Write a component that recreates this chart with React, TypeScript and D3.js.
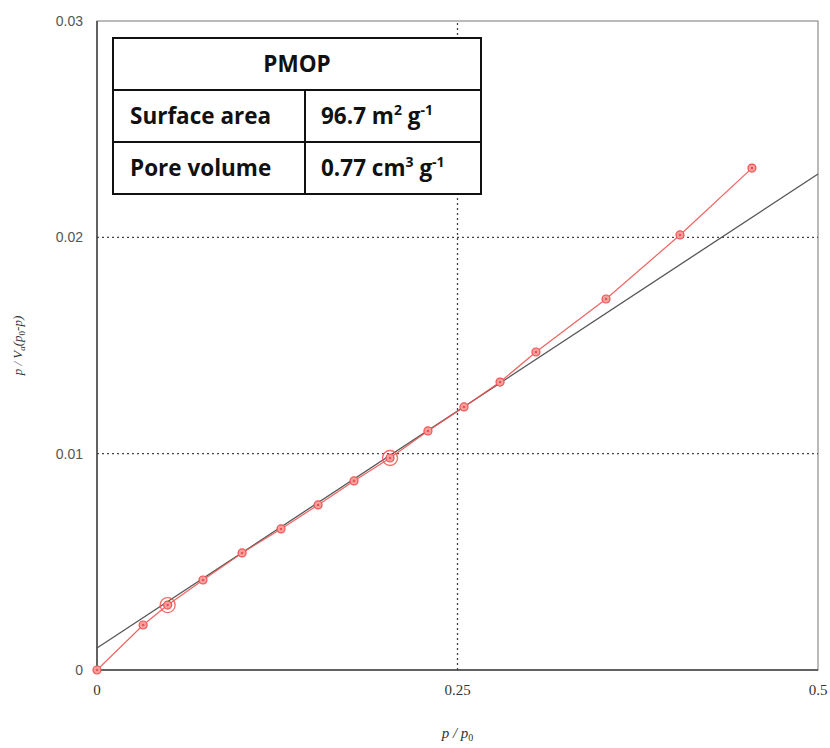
import React from "react";
import * as d3 from "d3";

// relative pressure p/p0
const relPressure = [0, 0.032, 0.049, 0.0735, 0.1006, 0.1276, 0.1533, 0.1782, 0.2032, 0.2295, 0.2545, 0.2795, 0.3044, 0.353, 0.4043, 0.4542];
// BET transform p / Va(p0-p)
const betValues = [0, 0.00208, 0.003, 0.00416, 0.00541, 0.00652, 0.00763, 0.00874, 0.0098, 0.01105, 0.01216, 0.01331, 0.0147, 0.01715, 0.02011, 0.0232];
// points that bound the fitted range
const rangeIdx = [2, 8];
// fitted line
const fitX = [0, 0.5];
const fitY = [0.00102, 0.02293];

const xTicks = [0, 0.25, 0.5];
const yTicks = [0, 0.01, 0.02, 0.03];
const xTickLabels = ["0", "0.25", "0.5"];
const yTickLabels = ["0", "0.01", "0.02", "0.03"];

const tableTitle = "PMOP";
const tableRows = [
  { label: "Surface area", value: "96.7 m", sup1: "2", unit: " g", sup2: "-1" },
  { label: "Pore volume", value: "0.77 cm", sup1: "3", unit: " g", sup2: "-1" },
];

const W = 830;
const H = 748;
const margin = { left: 97, right: 12, top: 21, bottom: 78 };

const App = () => {
  const x = d3.scaleLinear().domain([0, 0.5]).range([margin.left, W - margin.right]);
  const y = d3.scaleLinear().domain([0, 0.03]).range([H - margin.bottom, margin.top]);

  const pts = relPressure.map((p, i) => [p, betValues[i]] as [number, number]);
  const line = d3.line<[number, number]>().x((d) => x(d[0])).y((d) => y(d[1]));
  const fitPts = fitX.map((v, i) => [v, fitY[i]] as [number, number]);

  const red = "#f0524f";
  const tx = 113, ty = 38, tw = 368, rh = 52, colX = 305;
  const tFont = "'Open Sans', Lato, sans-serif";

  return (
    <svg width={W} height={H} style={{ position: "absolute", left: 0, top: 0, background: "#fff" }}>
      {/* frame */}
      <rect x={x(0)} y={y(0.03)} width={x(0.5) - x(0)} height={y(0) - y(0.03)} fill="none" stroke="#777" strokeWidth={1} />
      {/* grid */}
      {xTicks.filter((t) => t > 0 && t < 0.5).map((t) => (
        <line key={"gx" + t} x1={x(t)} x2={x(t)} y1={y(0)} y2={y(0.03)} stroke="#444" strokeWidth={1.3} strokeDasharray="2,3" />
      ))}
      {yTicks.filter((t) => t > 0 && t < 0.03).map((t) => (
        <line key={"gy" + t} x1={x(0)} x2={x(0.5)} y1={y(t)} y2={y(t)} stroke="#444" strokeWidth={1.3} strokeDasharray="2,3" />
      ))}
      {/* axes */}
      <line x1={x(0)} x2={x(0)} y1={y(0)} y2={y(0.03)} stroke="#444" strokeWidth={1.5} />
      <line x1={x(0)} x2={x(0.5)} y1={y(0)} y2={y(0)} stroke="#444" strokeWidth={1.5} />

      {yTicks.map((t, i) => (
        <text key={"yt" + t} x={x(0) - 14} y={y(t)} dy="0.35em" textAnchor="end" fontFamily="'Liberation Sans', Arial, sans-serif" fontSize={14} fill="#555">
          {yTickLabels[i]}
        </text>
      ))}
      {xTicks.map((t, i) => (
        <text key={"xt" + t} x={x(t)} y={y(0) + 25} textAnchor="middle" fontFamily="'Liberation Serif', 'Times New Roman', serif" fontSize={15} fill="#333">
          {xTickLabels[i]}
        </text>
      ))}

      {/* axis titles */}
      <text x={x(0.25)} y={H - 10} textAnchor="middle" fontFamily="'Liberation Serif', serif" fontStyle="italic" fontSize={15} fill="#333">
        p / p<tspan fontSize={10} dy={3} fontStyle="normal">0</tspan>
      </text>
      <text transform={`translate(22,${y(0.015)}) rotate(-90)`} textAnchor="middle" fontFamily="'Liberation Serif', serif" fontStyle="italic" fontSize={13} fill="#333">
        p / V<tspan fontSize={9} dy={3}>a</tspan><tspan dy={-3}>(p</tspan><tspan fontSize={9} dy={3} fontStyle="normal">0</tspan><tspan dy={-3}>-p)</tspan>
      </text>

      {/* fit line */}
      <path d={line(fitPts) || ""} fill="none" stroke="#555" strokeWidth={1.3} />
      {/* data */}
      <path d={line(pts) || ""} fill="none" stroke={red} strokeWidth={1.2} opacity={0.9} />
      {pts.map((d, i) => (
        <g key={"p" + i}>
          <circle cx={x(d[0])} cy={y(d[1])} r={4} fill="#f7a0a0" stroke={red} strokeWidth={1.2} />
          <circle cx={x(d[0])} cy={y(d[1])} r={1.3} fill={red} />
        </g>
      ))}
      {rangeIdx.map((i) => (
        <circle key={"r" + i} cx={x(relPressure[i])} cy={y(betValues[i])} r={7.5} fill="none" stroke={red} strokeWidth={1.3} opacity={0.85} />
      ))}

      {/* info table */}
      <g fontFamily={tFont} fontWeight="bold" fontSize={22.5} fill="#111">
        <rect x={tx} y={ty} width={tw} height={rh * 3} fill="#fff" stroke="#111" strokeWidth={2} />
        <line x1={tx} x2={tx + tw} y1={ty + rh} y2={ty + rh} stroke="#111" strokeWidth={2} />
        <line x1={tx} x2={tx + tw} y1={ty + rh * 2} y2={ty + rh * 2} stroke="#111" strokeWidth={2} />
        <line x1={colX} x2={colX} y1={ty + rh} y2={ty + rh * 3} stroke="#111" strokeWidth={2} />
        <text x={tx + tw / 2} y={ty + rh / 2} dy="0.35em" textAnchor="middle">{tableTitle}</text>
        {tableRows.map((r, i) => (
          <g key={r.label}>
            <text x={tx + 17} y={ty + rh * (i + 1.5)} dy="0.35em">{r.label}</text>
            <text x={colX + 16} y={ty + rh * (i + 1.5)} dy="0.35em">
              {r.value}
              <tspan fontSize={14} dy={-9}>{r.sup1}</tspan>
              <tspan dy={9}>{r.unit}</tspan>
              <tspan fontSize={14} dy={-9}>{r.sup2}</tspan>
            </text>
          </g>
        ))}
      </g>
    </svg>
  );
};

export default App;
